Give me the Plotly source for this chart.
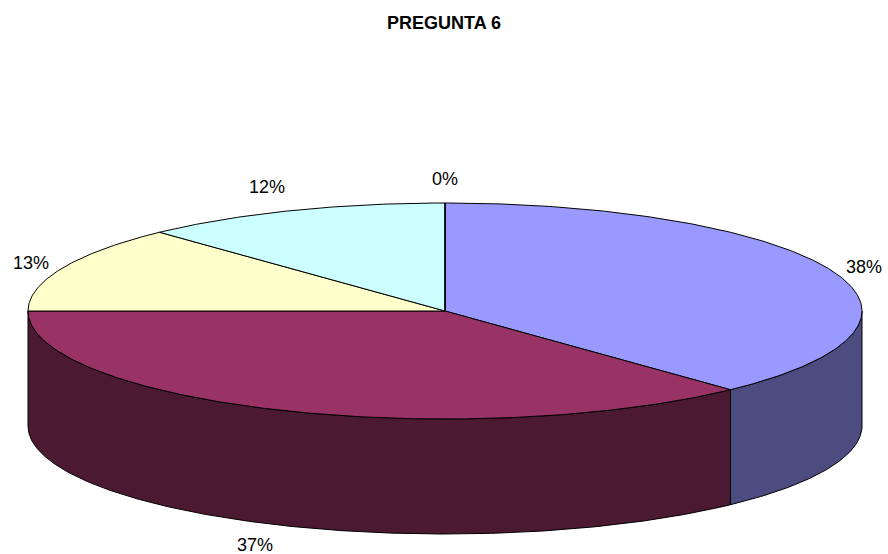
import numpy as np
import plotly.graph_objects as go

# ---- data ----
values = [38, 37, 13, 12, 0]
colors = ["#9999FF", "#993366", "#FFFFCC", "#CCFFFF", "#660066"]
side_colors = ["#4C4C80", "#4C1933", "#80805F", "#668080", "#330033"]
title = "PREGUNTA 6"

# ---- geometry of the tilted pie (pixel space of the page) ----
W, H = 888, 554
CX, CY = 445, 311
RX, RY = 417, 108
DEPTH = 115
FONT = "Liberation Sans, Arial, sans-serif"

total = float(sum(values))
bounds = np.concatenate([[0.0], np.cumsum(values) / total * 360.0])


def pt(theta, dz=0.0):
    t = np.radians(theta)
    return CX + RX * np.sin(t), CY - RY * np.cos(t) + dz


def arc(a1, a2, dz=0.0, n=None):
    if n is None:
        n = max(2, int(abs(a2 - a1) * 2) + 2)
    th = np.linspace(a1, a2, n)
    return pt(th, dz)


fig = go.Figure()

# side walls (front half only: 90..270 degrees clockwise from top)
for i, v in enumerate(values):
    a1, a2 = bounds[i], bounds[i + 1]
    b1, b2 = max(a1, 90.0), min(a2, 270.0)
    if b2 <= b1:
        continue
    xt, yt = arc(b1, b2)
    xb, yb = arc(b2, b1, DEPTH)
    xs = np.concatenate([xt, xb, xt[:1]])
    ys = np.concatenate([yt, yb, yt[:1]])
    fig.add_trace(go.Scatter(x=xs, y=ys, mode="lines", fill="toself",
                             fillcolor=side_colors[i],
                             line=dict(color="black", width=1),
                             hoverinfo="skip", showlegend=False))

# top faces
for i, v in enumerate(values):
    a1, a2 = bounds[i], bounds[i + 1]
    xa, ya = arc(a1, a2)
    xs = np.concatenate([[CX], xa, [CX]])
    ys = np.concatenate([[CY], ya, [CY]])
    fig.add_trace(go.Scatter(x=xs, y=ys, mode="lines", fill="toself",
                             fillcolor=colors[i],
                             line=dict(color="black", width=1),
                             hoverinfo="skip", showlegend=False))

# percentage labels
annotations = []
for i, v in enumerate(values):
    mid = (bounds[i] + bounds[i + 1]) / 2.0
    s, c = np.sin(np.radians(mid)), np.cos(np.radians(mid))
    dz = DEPTH if c < 0 else 0.0
    px, py = pt(mid, dz)
    x = px + 12 * s
    y = py - (12 * c if c > 0 else 9 * c)
    xanchor = "left" if s > 0.45 else ("right" if s < -0.3 else "center")
    yanchor = "bottom" if c > 0.5 else ("top" if c < -0.5 else "middle")
    annotations.append(dict(x=x, y=y, xref="x", yref="y", showarrow=False,
                            text=f"{round(v / total * 100)}%",
                            xanchor=xanchor, yanchor=yanchor,
                            font=dict(family=FONT, size=18, color="black")))

annotations.append(dict(x=0.5, y=23, xref="paper", yref="y", showarrow=False,
                        text=f"<b>{title}</b>", xanchor="center", yanchor="middle",
                        font=dict(family=FONT, size=18, color="black")))

fig.update_layout(
    width=W, height=H,
    margin=dict(l=0, r=0, t=0, b=0),
    paper_bgcolor="white", plot_bgcolor="white",
    xaxis=dict(range=[0, W], visible=False, fixedrange=True),
    yaxis=dict(range=[H, 0], visible=False, fixedrange=True),
    annotations=annotations,
    showlegend=False,
)

fig.write_html("out.html")
